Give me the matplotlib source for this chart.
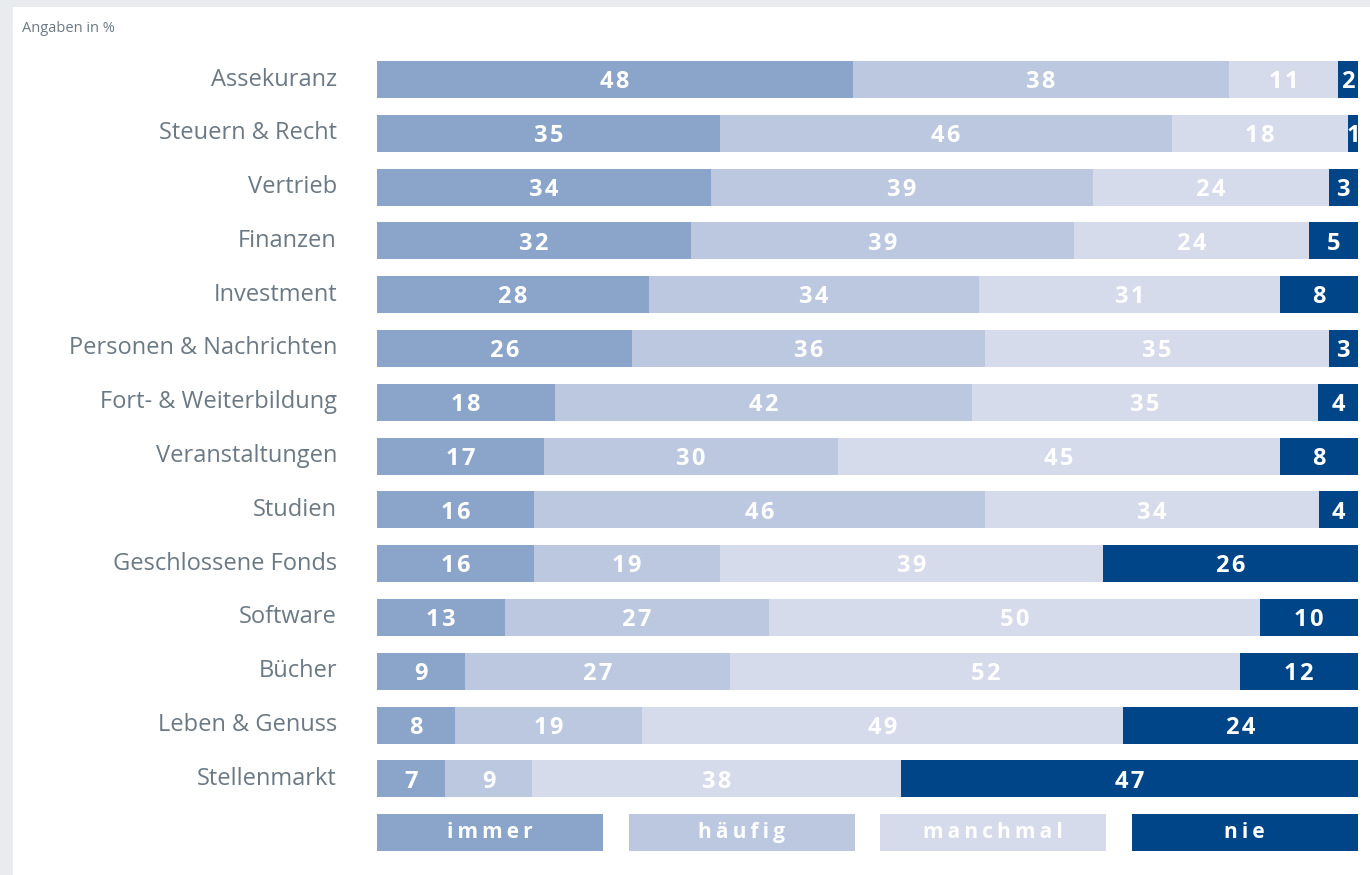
import numpy as np
import matplotlib.pyplot as plt
from matplotlib.patches import Rectangle

# ======================================
# data (Angaben in %)
# ======================================
categories = ["Assekuranz", "Steuern & Recht", "Vertrieb", "Finanzen", "Investment",
              "Personen & Nachrichten", "Fort- & Weiterbildung", "Veranstaltungen",
              "Studien", "Geschlossene Fonds", "Software", "Bücher",
              "Leben & Genuss", "Stellenmarkt"]
immer = [48, 35, 34, 32, 28, 26, 18, 17, 16, 16, 13, 9, 8, 7]
haeufig = [38, 46, 39, 39, 34, 36, 42, 30, 46, 19, 27, 27, 19, 9]
manchmal = [11, 18, 24, 24, 31, 35, 35, 45, 34, 39, 50, 52, 49, 38]
nie = [2, 1, 3, 5, 8, 3, 4, 8, 4, 26, 10, 12, 24, 47]
series_names = ["immer", "häufig", "manchmal", "nie"]

colors = ["#8aa5c9", "#bcc8e0", "#d5dbea", "#004587"]
label_col = "#6b7984"
FONT = ["Open Sans", "DejaVu Sans"]
THIN = "\u2009"
HAIR = "\u200a"

W, H = 1370, 875
fig = plt.figure(figsize=(W / 100, H / 100), dpi=100)
fig.patch.set_facecolor("#e8ecef")
fig.patches.append(Rectangle((13 / W, 0), 1 - 13 / W, (H - 7) / H,
                             transform=fig.transFigure, facecolor="white",
                             edgecolor="none", zorder=-10))

fig.text(22 / W, 1 - 28 / H, "Angaben in %", fontsize=10.5, color=label_col,
         family=FONT, va="center", ha="left")

# axes in pixel layout
pitch = 53.8
top = 79.5 - pitch / 2
bottom = 79.5 + 14 * pitch + pitch / 2
x0, x1 = 377, 1358
ax = fig.add_axes([x0 / W, 1 - bottom / H, (x1 - x0) / W, (bottom - top) / H])
ax.set_zorder(5)
ax.set_xlim(0, 100)
ax.set_ylim(14.5, -0.5)
ax.axis("off")

data = np.array([immer, haeufig, manchmal, nie], dtype=float)
totals = data.sum(axis=0)
scaled = data / totals * 100
bh = 37 / pitch
y = np.arange(len(categories))

left = np.zeros(len(categories))
for k in range(4):
    ax.barh(y, scaled[k], left=left, height=bh, color=colors[k], linewidth=0)
    for i in range(len(categories)):
        txt = HAIR.join(str(int(data[k, i])))
        ax.text(left[i] + scaled[k, i] / 2, y[i] + 0.05, txt, ha="center", va="center",
                color="white", fontsize=17, fontweight="bold", family=FONT)
    left += scaled[k]

for i, c in enumerate(categories):
    ax.text(-40 / (x1 - x0) * 100, y[i], c, ha="right", va="center",
            fontsize=17, color=label_col, family=FONT)

# legend row
gap = 2.55
lw = (100 - 3 * gap) / 4
for k, name in enumerate(series_names):
    lx = k * (lw + gap)
    ax.barh(14, lw, left=lx, height=bh, color=colors[k], linewidth=0)
    ax.text(lx + lw / 2, 14, THIN.join(name), ha="center", va="center",
            color="white", fontsize=15, fontweight="bold", family=FONT)

fig.savefig("out.png", dpi=100)
